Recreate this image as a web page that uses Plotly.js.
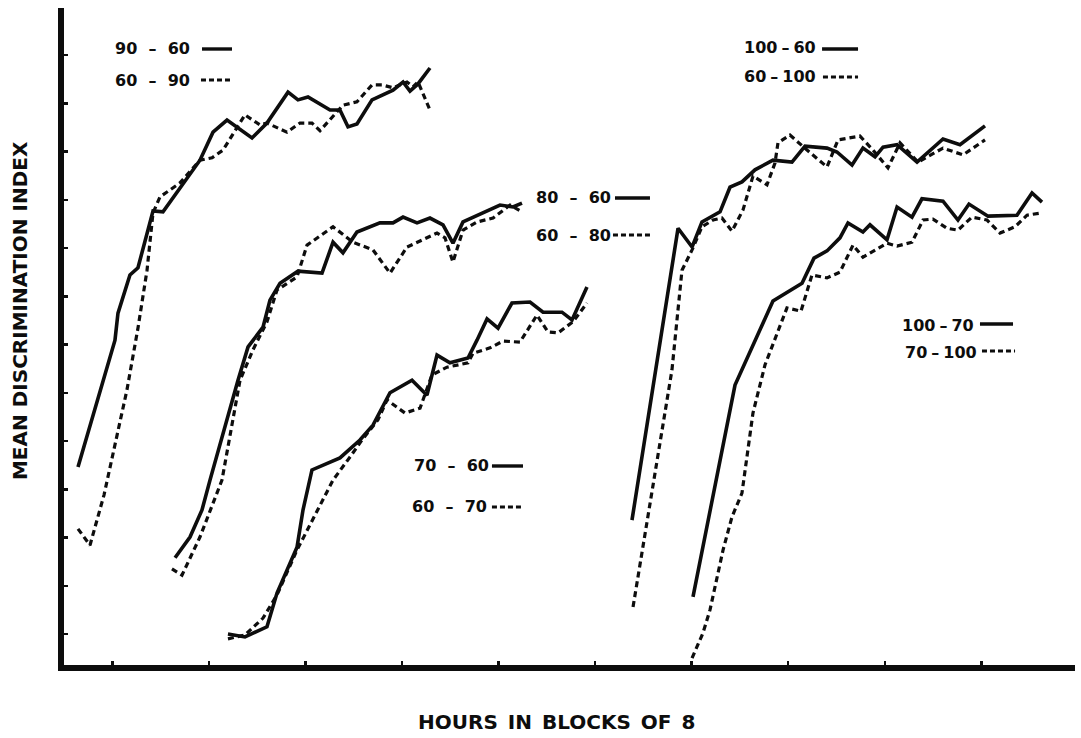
<!DOCTYPE html>
<html>
<head>
<meta charset="utf-8">
<script src="https://cdn.plot.ly/plotly-3.0.1.min.js"></script>
<style>
  html, body { margin: 0; padding: 0; background: #fff; }
  #chart { width: 1081px; height: 738px; }
</style>
</head>
<body>
<div id="chart"></div>
<script>
// Mean discrimination index by block of 8 hours, for each pair of training conditions.
// Each condition pair is plotted on its own stretch of the block axis.

// 90 - 60 (solid) and 60 - 90 (dashed)
const blocks_90_60 = [1.45, 5.28, 5.59, 6.83, 7.66, 9.22, 10.25, 14.08, 15.43, 16.88, 19.47, 21.02, 23.20, 24.23, 25.27, 27.55, 28.58, 29.41, 30.34, 31.90, 34.07, 35.11, 35.83, 36.66, 37.90];
const index_90_60  = [4.46, 7.09, 7.65, 8.44, 8.59, 9.77, 9.75, 10.82, 11.40, 11.65, 11.28, 11.59, 12.23, 12.07, 12.13, 11.86, 11.86, 11.51, 11.57, 12.07, 12.27, 12.44, 12.25, 12.40, 12.73];
const blocks_60_90 = [1.45, 2.69, 4.14, 6.52, 7.66, 8.60, 9.22, 9.94, 10.67, 12.01, 14.08, 15.33, 16.47, 18.74, 20.30, 21.02, 23.09, 24.44, 25.68, 26.51, 28.89, 30.34, 31.90, 32.93, 34.07, 35.52, 36.14, 36.66, 37.90];
const index_60_90  = [3.18, 2.84, 3.88, 6.06, 7.34, 8.54, 9.73, 10.06, 10.16, 10.35, 10.82, 10.87, 11.03, 11.76, 11.55, 11.59, 11.40, 11.59, 11.59, 11.43, 11.96, 12.03, 12.38, 12.38, 12.32, 12.44, 12.34, 12.44, 11.86];

// 80 - 60 (solid) and 60 - 80 (dashed)
const blocks_80_60 = [11.50, 13.05, 14.29, 15.12, 18.02, 19.06, 20.61, 21.33, 22.37, 24.23, 26.72, 27.86, 28.89, 30.34, 32.72, 34.07, 35.11, 36.56, 37.90, 39.25, 40.28, 41.32, 45.15, 46.50, 47.43];
const index_80_60  = [2.58, 3.01, 3.57, 4.19, 6.26, 6.95, 7.36, 7.92, 8.27, 8.52, 8.48, 9.12, 8.90, 9.33, 9.52, 9.52, 9.64, 9.52, 9.62, 9.48, 9.10, 9.54, 9.89, 9.85, 9.93];
const blocks_60_80 = [11.18, 12.22, 14.08, 16.36, 18.23, 19.57, 21.02, 22.06, 24.13, 25.17, 27.86, 29.93, 32.00, 33.76, 35.52, 38.63, 39.46, 40.28, 41.32, 42.77, 44.43, 46.19, 47.43];
const index_60_80  = [2.35, 2.22, 3.01, 4.19, 6.26, 6.89, 7.47, 8.13, 8.40, 9.06, 9.44, 9.12, 8.96, 8.48, 9.02, 9.31, 9.21, 8.71, 9.37, 9.54, 9.62, 9.89, 9.75];

// 70 - 60 (solid) and 60 - 70 (dashed)
const blocks_70_60 = [16.98, 18.74, 21.02, 22.06, 24.13, 24.75, 25.68, 28.58, 30.65, 32.00, 33.76, 36.04, 37.59, 38.63, 39.97, 41.84, 42.77, 43.81, 44.95, 46.39, 48.26, 49.61, 51.57, 52.61, 54.16];
const index_70_60  = [1.00, 0.94, 1.15, 1.85, 2.80, 3.57, 4.40, 4.65, 5.02, 5.33, 6.00, 6.26, 5.95, 6.78, 6.62, 6.72, 7.09, 7.53, 7.34, 7.86, 7.88, 7.67, 7.67, 7.51, 8.19];
const blocks_60_70 = [16.98, 18.74, 20.61, 22.06, 24.13, 27.86, 29.62, 30.86, 32.52, 33.45, 35.31, 36.87, 38.11, 39.66, 41.84, 42.36, 44.12, 45.46, 47.22, 48.98, 50.12, 51.16, 52.71, 54.16];
const index_60_70  = [0.90, 0.98, 1.33, 1.81, 2.74, 4.19, 4.67, 5.02, 5.44, 5.85, 5.58, 5.68, 6.37, 6.53, 6.62, 6.82, 6.93, 7.07, 7.05, 7.61, 7.26, 7.24, 7.47, 7.86];

// 100 - 60 (solid) and 60 - 100 (dashed)
const blocks_100_60 = [58.82, 63.59, 65.04, 66.07, 67.94, 68.97, 70.21, 71.56, 73.42, 75.39, 76.74, 79.02, 80.05, 81.61, 82.74, 83.99, 84.82, 86.27, 88.34, 91.03, 92.79, 95.38];
const index_100_60  = [3.36, 9.41, 9.02, 9.54, 9.75, 10.26, 10.37, 10.62, 10.82, 10.78, 11.11, 11.07, 10.99, 10.72, 11.07, 10.89, 11.09, 11.14, 10.78, 11.26, 11.14, 11.53];
const blocks_60_100 = [58.93, 62.96, 64.00, 65.04, 66.07, 67.21, 68.14, 69.18, 70.32, 71.35, 72.80, 73.63, 73.94, 75.18, 76.95, 79.02, 80.16, 82.43, 83.78, 85.33, 86.58, 88.44, 91.03, 93.10, 95.38];
const index_60_100  = [1.56, 6.47, 8.54, 8.96, 9.44, 9.58, 9.62, 9.35, 9.79, 10.49, 10.31, 10.76, 11.18, 11.34, 11.03, 10.68, 11.24, 11.32, 11.03, 10.66, 11.18, 10.78, 11.07, 10.93, 11.24];

// 100 - 70 (solid) and 70 - 100 (dashed)
const blocks_100_70 = [65.14, 69.49, 73.42, 76.43, 77.67, 79.02, 80.36, 81.19, 82.74, 83.47, 85.23, 86.27, 87.82, 88.85, 91.03, 92.58, 93.72, 95.69, 98.69, 100.25, 101.28];
const index_100_70  = [1.77, 6.16, 7.90, 8.27, 8.79, 8.94, 9.21, 9.52, 9.33, 9.48, 9.17, 9.85, 9.64, 10.02, 9.97, 9.58, 9.91, 9.66, 9.68, 10.14, 9.95];
const blocks_70_100 = [65.04, 66.17, 66.90, 68.25, 69.18, 70.21, 71.35, 72.60, 74.87, 76.32, 77.46, 79.02, 80.36, 81.71, 82.74, 85.23, 86.27, 87.82, 88.96, 89.99, 91.44, 92.58, 94.03, 95.59, 96.93, 98.49, 99.73, 101.28];
const index_70_100  = [0.50, 1.02, 1.50, 2.74, 3.43, 3.92, 5.58, 6.58, 7.76, 7.69, 8.44, 8.38, 8.50, 9.06, 8.81, 9.10, 9.04, 9.12, 9.58, 9.60, 9.41, 9.37, 9.64, 9.58, 9.31, 9.44, 9.68, 9.73];

// Axis tick positions (no tick labels are printed on this figure)
const blockTicks = [5, 15, 25, 35, 45, 55, 65, 75, 85, 95];
const indexTicks = [1, 2, 3, 4, 5, 6, 7, 8, 9, 10, 11, 12, 13];

const INK = '#0d0d0d';
const solid  = { color: INK, width: 3.6, dash: 'solid' };
const dashed = { color: INK, width: 3.2, dash: '6px,4px' };

function curve(name, xs, ys, line) {
  return { type: 'scatter', mode: 'lines', name: name, x: xs, y: ys,
           line: line, showlegend: false, hoverinfo: 'skip' };
}

const traces = [
  curve('90 - 60', blocks_90_60, index_90_60, solid),
  curve('60 - 90', blocks_60_90, index_60_90, dashed),
  curve('80 - 60', blocks_80_60, index_80_60, solid),
  curve('60 - 80', blocks_60_80, index_60_80, dashed),
  curve('70 - 60', blocks_70_60, index_70_60, solid),
  curve('60 - 70', blocks_60_70, index_60_70, dashed),
  curve('100 - 60', blocks_100_60, index_100_60, solid),
  curve('60 - 100', blocks_60_100, index_60_100, dashed),
  curve('100 - 70', blocks_100_70, index_100_70, solid),
  curve('70 - 100', blocks_70_100, index_70_100, dashed)
];

// Key labels: text followed by a short sample of the line style
const keyFont = { family: 'DejaVu Sans', size: 16, color: INK, weight: 'bold' };
const SP = '\u2002\u2009';   // gap around the dash in two-digit labels
const SN = '\u2005';         // narrower gap in labels with a three-digit value
const keys = [
  // [label, x, y, sample x0, sample x1, sample y, isDashed]
  ['90' + SP + '\u2013' + SP + '60', 0.0485, 0.9376, 0.1365, 0.1662, 0.9376, false],
  ['60' + SP + '\u2013' + SP + '90', 0.0485, 0.8889, 0.1355, 0.1662, 0.8904, true],
  ['80' + SP + '\u2013' + SP + '60', 0.4649, 0.7123, 0.5450, 0.5796, 0.7108, false],
  ['60' + SP + '\u2013' + SP + '80', 0.4649, 0.6530, 0.5430, 0.5806, 0.6545, true],
  ['70' + SP + '\u2013' + SP + '60', 0.3442, 0.3044, 0.4233, 0.4540, 0.3029, false],
  ['60' + SP + '\u2013' + SP + '70', 0.3422, 0.2405, 0.4233, 0.4540, 0.2405, true],
  ['100' + SN + '\u2013' + SN + '60', 0.6706, 0.9406, 0.7498, 0.7854, 0.9376, false],
  ['60' + SN + '\u2013' + SN + '100', 0.6706, 0.8950, 0.7507, 0.7854, 0.8950, true],
  ['100' + SN + '\u2013' + SN + '70', 0.8269, 0.5175, 0.9060, 0.9387, 0.5190, false],
  ['70' + SN + '\u2013' + SN + '100', 0.8299, 0.4749, 0.9080, 0.9407, 0.4779, true]
];

const annotations = keys.map(k => ({
  text: k[0], xref: 'paper', yref: 'paper', x: k[1], y: k[2],
  xanchor: 'left', yanchor: 'middle', showarrow: false, font: keyFont
}));
const shapes = keys.map(k => ({
  type: 'line', xref: 'paper', yref: 'paper', x0: k[3], x1: k[4], y0: k[5], y1: k[5],
  line: k[6] ? { color: INK, width: 3, dash: '5px,3px' } : { color: INK, width: 3.4 }
}));

const titleFont = { family: 'DejaVu Sans', size: 20, color: INK, weight: 'bold' };
annotations.push({
  text: 'MEAN DISCRIMINATION INDEX', xref: 'paper', yref: 'paper',
  x: -0.0435, y: 0.5388, textangle: -90, showarrow: false,
  xanchor: 'center', yanchor: 'middle', font: titleFont
});
annotations.push({
  text: 'HOURS\u2002IN\u2002BLOCKS\u2002OF\u20028', xref: 'paper', yref: 'paper',
  x: 0.4876, y: -0.0868, showarrow: false,
  xanchor: 'center', yanchor: 'middle', font: titleFont
});

const axisCommon = {
  showgrid: false, zeroline: false, showticklabels: false,
  showline: true, linecolor: INK, linewidth: 6,
  ticks: 'inside', ticklen: 4, tickwidth: 2.5, tickcolor: INK,
  tickmode: 'array', fixedrange: true
};

const layout = {
  width: 1081, height: 738,
  margin: { l: 64, r: 6, t: 8, b: 73 },
  paper_bgcolor: '#ffffff', plot_bgcolor: '#ffffff',
  showlegend: false,
  xaxis: Object.assign({}, axisCommon, { range: [0, 104.70], tickvals: blockTicks }),
  yaxis: Object.assign({}, axisCommon, { range: [0.358, 13.974], tickvals: indexTicks }),
  annotations: annotations,
  shapes: shapes
};

Plotly.newPlot('chart', traces, layout, { staticPlot: true, displayModeBar: false });
</script>
</body>
</html>
